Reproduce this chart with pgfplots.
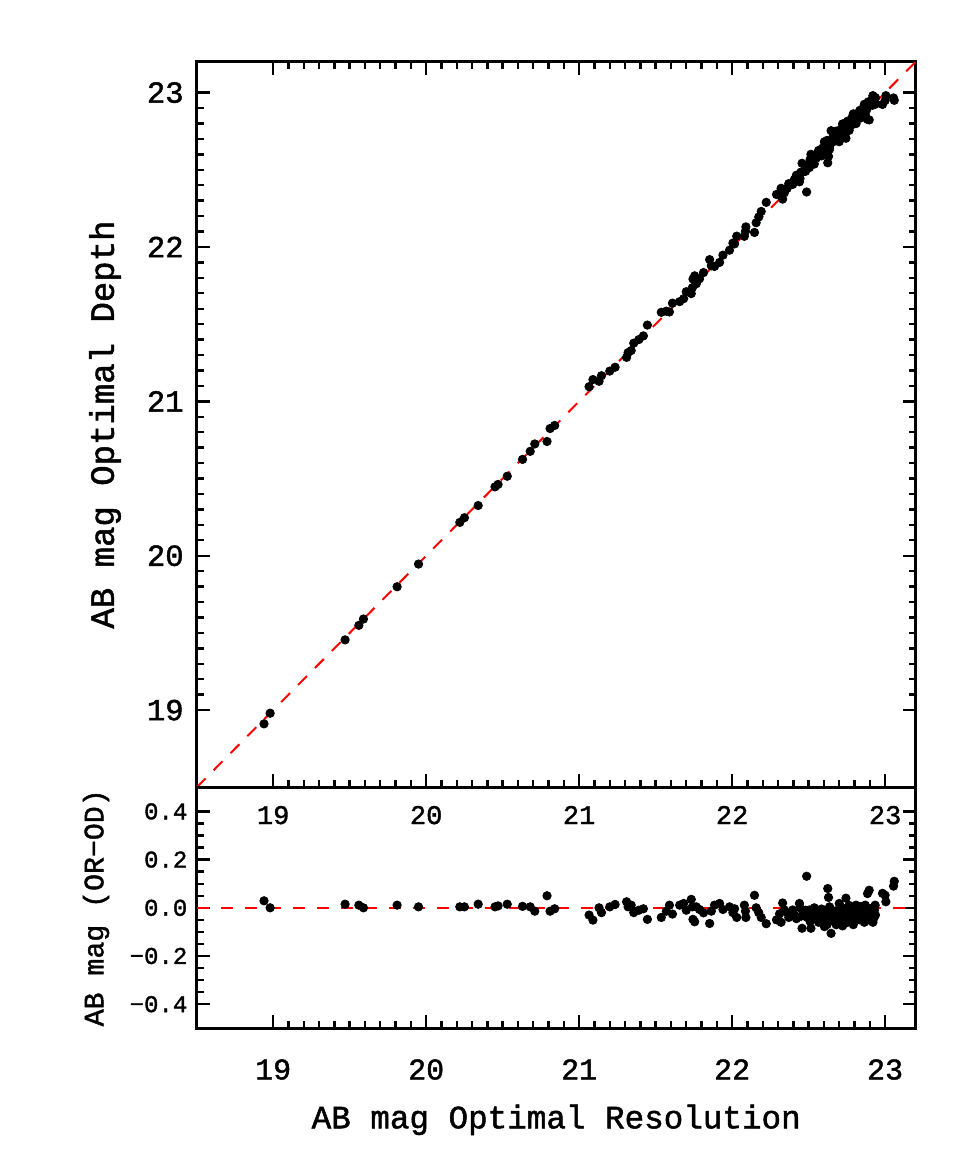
\documentclass[border=0pt]{standalone}
\usepackage{pgfplots}
\pgfplotsset{compat=1.18}
\usepackage{pgfplotstable}
\usepackage{fontspec}
\setmainfont{Liberation Mono}[FakeBold=1.5]

\pgfplotstableread{
x y d
18.94 18.911 0.029
18.98 18.980 0.000
19.47 19.455 0.015
19.56 19.549 0.011
19.59 19.590 0.000
19.81 19.799 0.011
19.95 19.946 0.004
20.22 20.216 0.004
20.25 20.246 0.004
20.34 20.325 0.015
20.45 20.446 0.004
20.47 20.462 0.008
20.53 20.515 0.015
20.63 20.624 0.006
20.68 20.676 0.004
20.71 20.724 -0.014
20.79 20.740 0.050
20.81 20.824 -0.014
20.84 20.844 -0.004
21.065 21.095 -0.030
21.09 21.141 -0.051
21.13 21.130 0.000
21.146 21.166 -0.020
21.20 21.196 0.004
21.235 21.221 0.014
21.31 21.285 0.025
21.32 21.316 0.004
21.34 21.329 0.011
21.357 21.377 -0.020
21.39 21.400 -0.010
21.42 21.424 -0.004
21.446 21.494 -0.048
21.537 21.577 -0.040
21.57 21.584 -0.014
21.59 21.579 0.011
21.61 21.636 -0.026
21.657 21.646 0.011
21.683 21.665 0.018
21.70 21.710 -0.010
21.733 21.698 0.035
21.74 21.736 0.004
21.744 21.792 -0.048
21.766 21.762 0.004
21.755 21.813 -0.058
21.787 21.794 -0.007
21.813 21.834 -0.021
21.853 21.918 -0.065
21.864 21.878 -0.014
21.885 21.874 0.011
21.918 21.900 0.018
21.94 21.947 -0.007
21.983 21.979 0.004
22.005 22.025 -0.020
22.03 22.070 -0.040
22.016 22.020 -0.004
22.08 22.069 0.011
22.087 22.101 -0.014
22.09 22.130 -0.040
22.146 22.094 0.052
22.157 22.157 0.000
22.174 22.194 -0.020
22.19 22.230 -0.040
22.223 22.289 -0.066
22.29 22.340 -0.050
22.31 22.335 -0.025
22.32 22.380 -0.060
22.33 22.310 0.020
22.342 22.351 -0.009
22.36 22.380 -0.020
22.37 22.410 -0.040
22.396 22.405 -0.009
22.407 22.437 -0.030
22.44 22.422 0.018
22.444 22.444 0.000
22.457 22.542 -0.085
22.47 22.490 -0.020
22.487 22.356 0.131
22.505 22.514 -0.009
22.51 22.567 -0.057
22.515 22.600 -0.085
22.537 22.537 0.000
22.55 22.575 -0.025
22.56 22.605 -0.045
22.57 22.590 -0.020
22.603 22.681 -0.078
22.618 22.628 -0.010
22.62 22.656 -0.036
22.625 22.545 0.080
22.63 22.587 0.043
22.637 22.633 0.004
22.64 22.660 -0.020
22.645 22.690 -0.045
22.647 22.753 -0.106
22.68 22.750 -0.070
22.69 22.700 -0.010
22.692 22.728 -0.036
22.70 22.682 0.018
22.71 22.740 -0.030
22.722 22.797 -0.075
22.744 22.704 0.040
22.748 22.748 0.000
22.752 22.777 -0.025
22.755 22.815 -0.060
22.77 22.815 -0.045
22.777 22.787 -0.010
22.792 22.862 -0.070
22.81 22.799 0.011
22.815 22.835 -0.020
22.82 22.865 -0.045
22.842 22.851 -0.009
22.849 22.884 -0.035
22.864 22.924 -0.060
22.87 22.859 0.011
22.885 22.826 0.059
22.896 22.823 0.073
22.907 22.927 -0.020
22.914 22.954 -0.040
22.918 22.918 0.000
22.92 22.980 -0.060
22.935 22.924 0.011
22.937 22.967 -0.030
22.983 22.923 0.060
23.00 22.948 0.052
23.005 22.980 0.025
23.055 22.965 0.090
23.06 22.950 0.110
22.52 22.550 -0.030
22.54 22.580 -0.040
22.58 22.610 -0.030
22.59 22.640 -0.050
22.60 22.615 -0.015
22.61 22.670 -0.060
22.62 22.690 -0.070
22.65 22.680 -0.030
22.66 22.715 -0.055
22.67 22.685 -0.015
22.675 22.720 -0.045
22.68 22.705 -0.025
22.70 22.755 -0.055
22.705 22.720 -0.015
22.715 22.765 -0.050
22.72 22.725 -0.005
22.73 22.770 -0.040
22.735 22.800 -0.065
22.74 22.760 -0.020
22.76 22.795 -0.035
22.765 22.755 0.010
22.78 22.810 -0.030
22.785 22.840 -0.055
22.79 22.800 -0.010
22.80 22.840 -0.040
22.805 22.825 -0.020
22.83 22.860 -0.030
22.835 22.885 -0.050
22.84 22.835 0.005
22.855 22.875 -0.020
22.86 22.905 -0.045
22.875 22.905 -0.030
22.88 22.890 -0.010
22.89 22.940 -0.050
22.90 22.930 -0.030
22.925 22.970 -0.045
22.93 22.940 -0.010
22.45 22.485 -0.035
22.48 22.490 -0.010
22.42 22.465 -0.045
22.49 22.530 -0.040
22.53 22.540 -0.010
22.565 22.625 -0.060
22.585 22.590 -0.005
}\datatable

\pgfplotsset{
  idl/.style={
    scale only axis,
    width=359.5pt,
    axis line style={line width=1.5pt},
    every tick/.style={black, line width=1.2pt},
    major tick length=6.5pt,
    minor tick length=3.5pt,
    tick align=inside,
    xmin=18.5, xmax=23.2,
    xtick={19,20,21,22,23},
    minor x tick num=9,
    /pgf/number format/assume math mode=true,
    clip=true,
  },
}

\begin{document}
\begin{tikzpicture}
\useasboundingbox (0,0) rectangle (487.5pt,-577.5pt);

% top panel
\begin{axis}[idl,
  at={(98.35pt,-30.85pt)}, anchor=north west,
  height=362.8pt,
  ymin=18.5, ymax=23.2,
  ytick={19,20,21,22,23},
  minor y tick num=9,
  xtick pos=both, ytick pos=both,
  xticklabel pos=left,
  yticklabel pos=left,
  xticklabel style={font=\fontsize{13.5}{15}\selectfont, yshift=-5.8pt},
  yticklabel style={font=\fontsize{15.3}{16}\selectfont, xshift=-3pt},
  ylabel={AB mag Optimal Depth},
  ylabel style={font=\fontsize{17}{18}\selectfont, at={(axis description cs:-0.1275,0.5)}, anchor=center},
]
\addplot[red, line width=1pt, dash pattern=on 6.3pt off 5.7pt] coordinates {(18.5,18.5) (23.2,23.2)};
\addplot[only marks, mark=*, mark size=2.1pt, black] table[x=x, y=y] {\datatable};
\end{axis}

% bottom panel
\begin{axis}[idl,
  at={(98.35pt,-393.65pt)}, anchor=north west,
  height=120.5pt,
  ymin=-0.5, ymax=0.5,
  ytick={-0.4,-0.2,0,0.2,0.4},
  yticklabels={−0.4,−0.2,0.0,0.2,0.4},
  minor y tick num=3,
  xtick pos=left, ytick pos=both,
  yticklabel pos=left,
  xticklabel style={font=\fontsize{15}{16}\selectfont, yshift=-12pt},
  yticklabel style={font=\fontsize{12}{14}\selectfont, anchor=east, inner sep=0pt, xshift=-4.5pt},
  xlabel={AB mag Optimal Resolution},
  xlabel style={font=\fontsize{16.3}{18}\selectfont, at={(axis description cs:0.5,-0.38)}, anchor=center},
  ylabel={AB mag (OR−OD)},
  ylabel style={font=\fontsize{14.1}{16}\selectfont, at={(axis description cs:-0.140,0.5)}, anchor=center},
]
\addplot[red, line width=1pt, dash pattern=on 6.3pt off 5.7pt] coordinates {(18.5,0) (23.2,0)};
\addplot[only marks, mark=*, mark size=2.1pt, black] table[x=x, y=d] {\datatable};
\end{axis}
\end{tikzpicture}
\end{document}
